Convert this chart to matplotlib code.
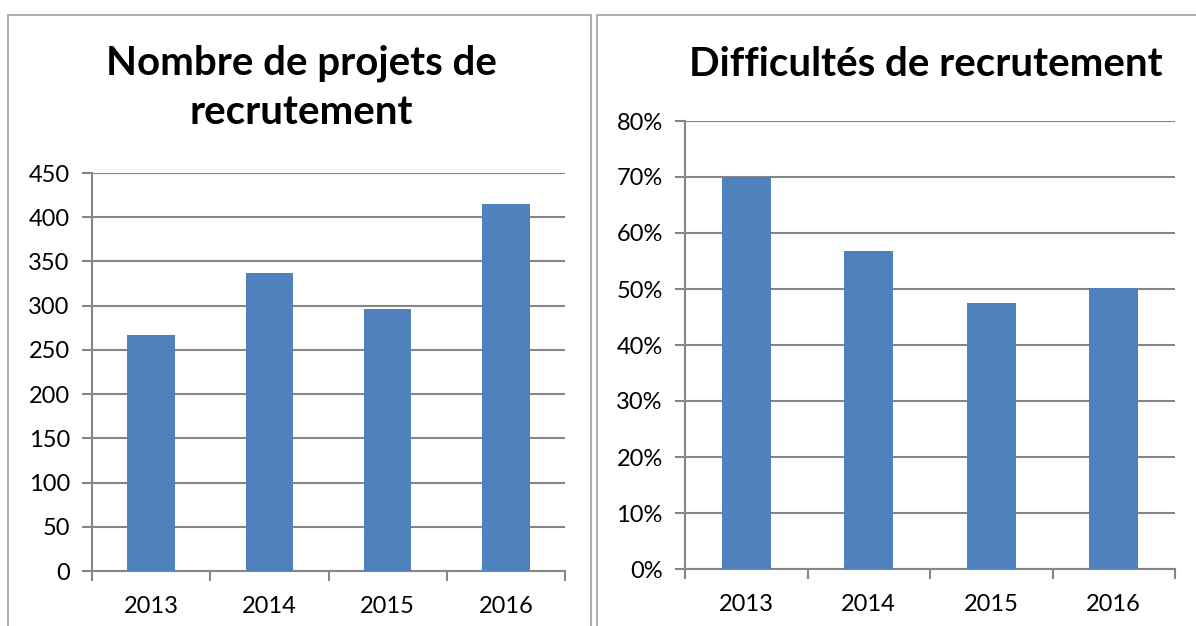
import matplotlib
matplotlib.use("Agg")
import matplotlib.pyplot as plt
from matplotlib.patches import Rectangle
from matplotlib.ticker import FuncFormatter

plt.rcParams['font.family'] = ['Lato', 'DejaVu Sans']

years = ['2013', '2014', '2015', '2016']
projets = [267, 337, 296, 415]
difficultes = [0.70, 0.568, 0.475, 0.502]

bar_color = '#4F81BD'
grid_color = '#868686'

W, H = 1196, 626
fig = plt.figure(figsize=(W / 100, H / 100), dpi=100)


def px_axes(x0, y0, x1, y1):
    # pixel box (top-left origin) -> figure fractions
    return fig.add_axes([x0 / W, 1 - y1 / H, (x1 - x0) / W, (y1 - y0) / H])


def style(ax, vals, ymax, step, fmt):
    x = range(len(years))
    ax.bar(x, vals, width=0.4, color=bar_color, zorder=3)
    ax.set_xlim(-0.5, len(years) - 0.5)
    ax.set_ylim(0, ymax)
    ticks = [i * step for i in range(int(round(ymax / step)) + 1)]
    ax.set_yticks(ticks)
    ax.yaxis.set_major_formatter(FuncFormatter(fmt))
    ax.yaxis.grid(True, color=grid_color, linewidth=1.5, zorder=0)
    ax.set_xticks([i - 0.5 for i in range(len(years) + 1)])
    ax.set_xticklabels([])
    ax.set_xticks(list(x), minor=True)
    ax.set_xticklabels(years, minor=True)
    ax.tick_params(axis='x', which='major', length=7, width=1.5, color=grid_color)
    ax.tick_params(axis='x', which='minor', length=0, pad=18, labelsize=17)
    ax.tick_params(axis='y', length=7, width=1.5, color=grid_color, labelsize=17, pad=9)
    for s in ('top', 'right'):
        ax.spines[s].set_visible(False)
    for s in ('left', 'bottom'):
        ax.spines[s].set_color(grid_color)
        ax.spines[s].set_linewidth(1.5)


# panel frames
fig.patches.append(Rectangle((8 / W, -0.1), 583 / W, 1 - 15 / H + 0.1, transform=fig.transFigure,
                             fill=False, edgecolor='#A0A0A0', linewidth=1.2))
fig.patches.append(Rectangle((597 / W, -0.1), 0.6, 1 - 15 / H + 0.1, transform=fig.transFigure,
                             fill=False, edgecolor='#A0A0A0', linewidth=1.2))

ax1 = px_axes(92, 173, 565, 571)
style(ax1, projets, 450, 50, lambda v, p: f'{v:.0f}')
fig.text(301 / W, 1 - 63 / H, 'Nombre de projets de', ha='center', va='center',
         fontsize=29, fontweight='bold')
fig.text(301 / W, 1 - 113 / H, 'recrutement', ha='center', va='center',
         fontsize=29, fontweight='bold')

ax2 = px_axes(685, 121, 1175, 569)
style(ax2, difficultes, 0.8, 0.1, lambda v, p: f'{v * 100:.0f}%')
fig.text(926 / W, 1 - 64 / H, 'Difficultés de recrutement', ha='center', va='center',
         fontsize=29, fontweight='bold')

fig.savefig('out.png', dpi=100)
